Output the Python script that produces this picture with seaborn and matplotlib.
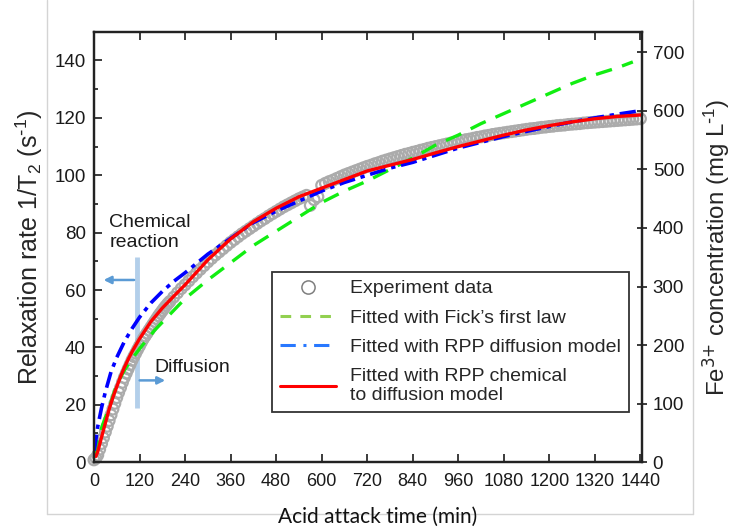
import numpy as np
import pandas as pd
import seaborn as sns
import matplotlib.pyplot as plt
from matplotlib.lines import Line2D

# experiment data (1/T2, s^-1): every 5 min up to 200 min, then every 10 min
exp_time = list(range(0, 200, 5)) + list(range(200, 1450, 10))
exp_rate = [0.8, 1.4, 2.5, 4.5, 6.5, 8.5, 10.5, 12.5, 14.5, 16.5,
            18.5, 20.5, 22.5, 24.3, 26, 27.8, 29.5, 31, 32.5, 34,
            35.5, 36.8, 38, 39.3, 40.5, 41.8, 43, 44, 45, 46,
            47, 48, 49, 50, 51, 51.9, 52.8, 53.7, 54.5, 55.3,
            56, 57.5, 59, 60.5, 61.8, 63.2, 64.6, 65.9, 67.2, 68.5,
            69.8, 71, 72.2, 73.3, 74.4, 75.5, 76.6, 77.6, 78.6, 79.6,
            80.5, 81.4, 82.3, 83.2, 84.1, 84.9, 85.8, 86.6, 87.4, 88.2,
            89, 89.7, 90.4, 91.1, 91.8, 92.4, 93, 89.5, 91.5, 92.5,
            96.5, 97.2, 97.8, 98.3, 98.9, 99.5, 100.1, 100.6, 101.1, 101.6,
            102.1, 102.6, 103.1, 103.5, 104, 104.4, 104.9, 105.3, 105.7, 106.1,
            106.5, 106.9, 107.3, 107.6, 108, 108.3, 108.7, 109, 109.4, 109.7,
            110, 110.3, 110.6, 110.9, 111.2, 111.5, 111.8, 112.1, 112.4, 112.6,
            112.9, 113.2, 113.4, 113.7, 113.9, 114.2, 114.4, 114.6, 114.8, 115,
            115.2, 115.4, 115.6, 115.8, 116, 116.2, 116.3, 116.5, 116.7, 116.8,
            117, 117.1, 117.3, 117.4, 117.5, 117.7, 117.8, 117.9, 118, 118.2,
            118.3, 118.4, 118.5, 118.6, 118.7, 118.8, 118.9, 119, 119.1, 119.2,
            119.3, 119.4, 119.5, 119.6, 119.7]

fick_time = [0, 20, 40, 60, 80, 100, 120, 160, 200, 240, 300, 360, 420, 480, 540,
             600, 660, 720, 780, 840, 900, 960, 1020, 1080, 1140, 1200, 1260, 1320, 1380, 1420]
fick_rate = [2, 12, 19, 27, 32, 36, 39.5, 46, 51.5, 57, 63.5, 69.5, 75.5, 80.5, 85.5,
             90.5, 94.5, 98, 102, 106, 110.5, 114, 118, 121.5, 125, 128.5, 132, 135, 137.5, 139.5]

rppd_time = [0, 3, 10, 20, 30, 45, 60, 80, 100, 120, 150, 180, 210, 240, 300, 360, 420,
             480, 540, 600, 660, 720, 780, 840, 900, 960, 1020, 1080, 1140, 1200, 1260,
             1320, 1380, 1440]
rppd_rate = [4, 6, 12.5, 19, 24.5, 31.5, 36.5, 42, 46.5, 50.5, 55.5, 59.5, 63, 66, 72.5, 78,
             83.5, 87.5, 91, 94.5, 97.5, 100, 102.5, 104.5, 107, 109.5, 111.5, 113.5, 115.3,
             117, 118.6, 120, 121.3, 122.5]

rppc_time = [5, 10, 25, 40, 50, 60, 70, 80, 90, 100, 120, 150, 180, 210, 240, 300, 360, 420,
             480, 540, 600, 660, 720, 780, 840, 900, 960, 1020, 1080, 1140, 1200, 1260, 1320,
             1380, 1440]
rppc_rate = [2, 3.7, 11.2, 18.5, 22.6, 26.3, 29.8, 33, 35.8, 38.4, 43, 49, 53.7, 57.8, 61.8,
             70.5, 77.8, 83.8, 88.5, 92.5, 95.5, 98.5, 101.5, 103.5, 105.5, 107.8, 110, 112,
             114, 115.8, 117.3, 118.6, 119.7, 120.5, 121]

x_ticks = list(range(0, 1441, 120))
left_ticks = list(range(0, 141, 20))
right_ticks = list(range(0, 701, 100))

exp_df = pd.DataFrame({"time": exp_time, "rate": exp_rate})

sns.set_theme(style="ticks")
plt.rcParams['font.family'] = ['Liberation Sans', 'DejaVu Sans']
plt.rcParams['mathtext.default'] = 'regular'

fig = plt.figure(figsize=(7.4, 5.3), dpi=100)
ax = fig.add_axes([0.127, 0.128, 0.741, 0.812])

sns.scatterplot(data=exp_df, x="time", y="rate", ax=ax, marker="o", s=60,
                facecolor="none", edgecolor="#ababab", linewidth=1.6, clip_on=False, zorder=2)

sns.lineplot(x=fick_time, y=fick_rate, ax=ax, color="#11ee11", lw=2.4, zorder=3)
ax.lines[-1].set_dashes([5, 3.2])
sns.lineplot(x=rppd_time, y=rppd_rate, ax=ax, color="#0000ff", lw=2.6, zorder=4)
ax.lines[-1].set_dashes([4.5, 1.6, 1.2, 1.6])
sns.lineplot(x=rppc_time, y=rppc_rate, ax=ax, color="#ff0000", lw=2.4, zorder=5)

ax.set_xlim(0, 1445)
ax.set_ylim(0, 150)
ax.set_xticks(x_ticks)
ax.set_yticks(left_ticks)
ax.set_yticks(range(0, 151, 10), minor=True)
ax.tick_params(axis="both", which="both", direction="in", top=True, right=False,
               labelsize=13.5, colors="#1a1a1a", width=1.2)
ax.tick_params(axis="both", which="major", length=6)
ax.tick_params(axis="y", which="minor", length=3)
ax.tick_params(axis="y", pad=6)
ax.tick_params(axis="x", pad=8, labelsize=13)
for sp in ax.spines.values():
    sp.set_linewidth(1.6)
    sp.set_color("#222222")
ax.set_xlabel("")
ax.set_ylabel("Relaxation rate 1/T$_2$ (s$^{\\text{-}1}$)", fontsize=18, labelpad=7)

ax2 = ax.twinx()
ax2.set_ylim(0, 735)
ax2.set_yticks(right_ticks)
ax2.tick_params(axis="y", direction="inout", length=7, width=1.2, labelsize=13.5,
                pad=4, colors="#1a1a1a")
for sp in ax2.spines.values():
    sp.set_linewidth(1.6)
    sp.set_color("#222222")
ax2.set_ylabel("Fe$^{\\text{3+}}$ concentration (mg L$^{\\text{-}1}$)", fontsize=17.3, labelpad=12)

fig.text(0.51, 0.025, "Acid attack time (min)", family=["Lato", "DejaVu Sans"],
         fontsize=15, ha="center", va="center", color="#111111")

# stage annotation
ax.plot([113, 113], [19, 71.5], color="#b3cfea", lw=3.5, solid_capstyle="butt", zorder=1)
arrow_kw = dict(arrowstyle="-|>", color="#5b9bd5", lw=1.8, mutation_scale=11)
ax.annotate("", xy=(18, 63.5), xytext=(113, 63.5), arrowprops=arrow_kw)
ax.annotate("", xy=(195, 28.5), xytext=(113, 28.5), arrowprops=arrow_kw)
ax.text(40, 80, "Chemical\nreaction", fontsize=14, ha="left", va="center",
        linespacing=1.2, color="#1a1a1a")
ax.text(160, 33, "Diffusion", fontsize=14, ha="left", va="center", color="#1a1a1a")

handles = [
    Line2D([], [], ls="none", marker="o", ms=9.5, mfc="white", mec="#7f7f7f", mew=1.1),
    Line2D([], [], color="#92d050", lw=2.2, dashes=[3.5, 3]),
    Line2D([], [], color="#2878ff", lw=2.2, dashes=[5, 2.5, 1, 2.5]),
    Line2D([], [], color="#ff0000", lw=2.2),
]
labels = ["Experiment data", "Fitted with Fick\u2019s first law",
          "Fitted with RPP diffusion model", "Fitted with RPP chemical\nto diffusion model"]
leg = ax.legend(handles, labels, loc="upper left", bbox_to_anchor=(0.325, 0.442),
                fontsize=14, frameon=True, fancybox=False, edgecolor="black",
                handlelength=2.9, handletextpad=0.7, labelspacing=0.6, borderpad=0.4,
                borderaxespad=0)
leg.get_frame().set_linewidth(1.3)
leg.set_zorder(10)

# faint outer frame of the original figure
frame_kw = dict(color="#d4d4d4", lw=1, transform=fig.transFigure)
fig.add_artist(Line2D([0.0635, 0.0635], [0.03, 1.0], **frame_kw))
fig.add_artist(Line2D([0.9365, 0.9365], [0.03, 1.0], **frame_kw))
fig.add_artist(Line2D([0.0635, 0.9365], [0.03, 0.03], **frame_kw))

plt.savefig("out.png", dpi=100)
